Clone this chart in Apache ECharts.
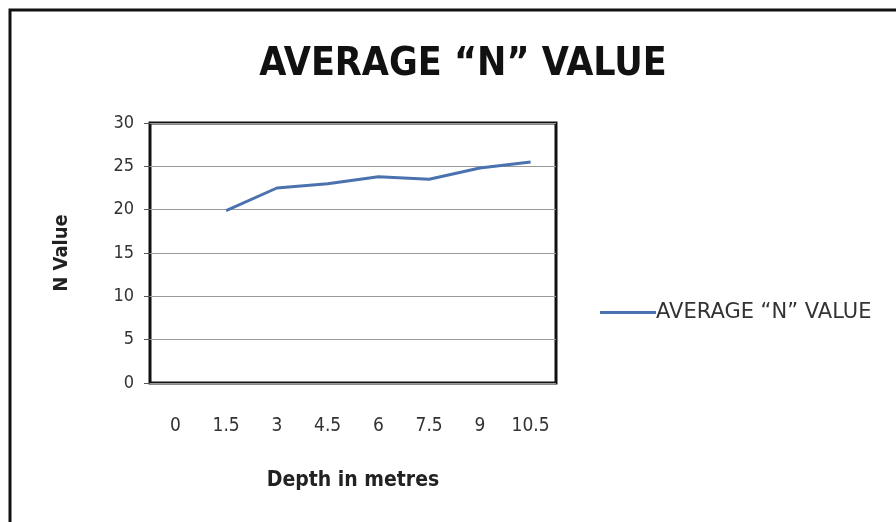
<!DOCTYPE html>
<html><head><meta charset="utf-8">
<script src="https://cdn.jsdelivr.net/npm/echarts@6/dist/echarts.min.js"></script>
<style>html,body{margin:0;padding:0;background:#fff}#c{width:896px;height:522px}</style>
</head><body><div id="c"></div>
<script>
const categories = ['0','1.5','3','4.5','6','7.5','9','10.5'];
const avgN = [null, 19.9, 22.5, 23.0, 23.8, 23.5, 24.8, 25.5];
const seriesName = 'AVERAGE \u201CN\u201D VALUE';
const titleText = 'AVERAGE \u201CN\u201D VALUE';
const FONT = '"DejaVu Sans Condensed", "Open Sans", sans-serif';
const FONT_WIDE = '"DejaVu Sans", "Open Sans", sans-serif';

const chart = echarts.init(document.getElementById('c'));
chart.setOption({
  backgroundColor: '#fff',
  animation: false,
  graphic: [{
    type: 'rect', shape: {x: 10, y: 10, width: 900, height: 530},
    style: {fill: 'none', stroke: '#111', lineWidth: 3}
  }],
  title: {
    text: titleText, left: 458, top: 40, textAlign: 'center',
    textStyle: {fontFamily: FONT, fontSize: 39, fontWeight: 'bold', color: '#111'}
  },
  legend: {
    left: 595, top: 297, itemWidth: 56, itemHeight: 3, itemGap: 0,
    icon: 'rect',
    textStyle: {fontFamily: FONT_WIDE, fontSize: 21, color: '#333', padding: [0,0,0,-5]},
    data: [{name: seriesName}]
  },
  grid: {
    left: 150, top: 123, width: 406, height: 260,
    show: true, borderColor: '#111', borderWidth: 3, backgroundColor: '#fff'
  },
  xAxis: {
    type: 'category', data: categories, boundaryGap: true,
    name: 'Depth in metres', nameLocation: 'middle', nameGap: 87,
    nameTextStyle: {fontFamily: FONT, fontSize: 21, fontWeight: 'bold', color: '#222'},
    axisLine: {show: false}, axisTick: {show: false},
    axisLabel: {fontFamily: FONT, fontSize: 19, color: '#333', margin: 34}
  },
  yAxis: {
    type: 'value', min: 0, max: 30, interval: 5,
    name: 'N Value', nameLocation: 'middle', nameGap: 78,
    nameTextStyle: {fontFamily: FONT, fontSize: 20, fontWeight: 'bold', color: '#222'},
    axisLine: {show: false},
    axisTick: {show: true, length: 6, lineStyle: {color: '#555'}},
    axisLabel: {fontFamily: FONT, fontSize: 18, color: '#333', margin: 16},
    splitLine: {lineStyle: {color: '#999', width: 1}}
  },
  series: [{
    name: seriesName, type: 'line', data: avgN,
    showSymbol: false, symbol: 'none',
    lineStyle: {color: '#4a72ae', width: 3},
    itemStyle: {color: '#4a72ae'}
  }]
});
</script></body></html>
